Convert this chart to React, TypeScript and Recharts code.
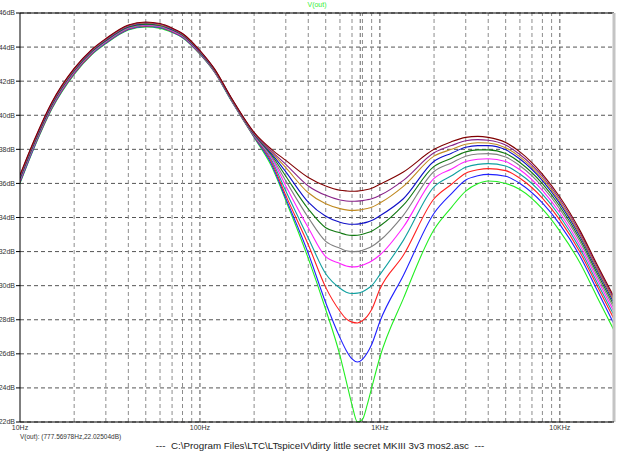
import React from 'react';
import { LineChart, Line, XAxis, YAxis, CartesianGrid, ReferenceLine } from 'recharts';

const FONT = '"Liberation Sans", Arial, sans-serif';

// frequencies (Hz)
const freqs = [10, 12, 15, 20, 25, 30, 40, 50, 60, 70, 80, 100, 120, 150, 200, 250, 300, 400, 500, 600, 650, 700, 750, 800, 850, 900, 1000, 1350, 2000, 2500, 3000, 3500, 4000, 5000, 6000, 8000, 10000, 13000, 16000, 20000];

// V(out) in dB for each stepped run
const sMaroon = [36.5, 38.55, 40.75, 42.75, 43.85, 44.5, 45.3, 45.47, 45.38, 45.12, 44.8, 43.8, 42.75, 41.0, 39.0, 38.0, 37.35, 36.35, 35.85, 35.6, 35.56, 35.54, 35.55, 35.58, 35.64, 35.72, 35.95, 36.67, 38.0, 38.45, 38.7, 38.76, 38.7, 38.4, 37.85, 36.55, 35.2, 33.2, 31.3, 29.34];
const sPurple = [36.45, 38.5, 40.71, 42.72, 43.82, 44.47, 45.27, 45.44, 45.35, 45.09, 44.78, 43.78, 42.73, 40.98, 38.97, 37.9, 37.12, 35.85, 35.3, 35.03, 34.97, 34.95, 34.96, 34.99, 35.04, 35.1, 35.3, 36.18, 37.8, 38.22, 38.5, 38.57, 38.53, 38.25, 37.7, 36.42, 35.07, 33.08, 31.18, 29.22];
const sTan = [36.4, 38.46, 40.67, 42.68, 43.79, 44.44, 45.24, 45.41, 45.32, 45.07, 44.75, 43.76, 42.71, 40.96, 38.94, 37.83, 36.92, 35.45, 34.8, 34.52, 34.45, 34.42, 34.43, 34.47, 34.53, 34.6, 34.85, 35.83, 37.6, 38.0, 38.3, 38.39, 38.37, 38.1, 37.56, 36.29, 34.94, 32.96, 31.06, 29.1];
const sNavy = [36.35, 38.41, 40.63, 42.65, 43.76, 44.41, 45.21, 45.38, 45.3, 45.04, 44.73, 43.73, 42.69, 40.95, 38.91, 37.75, 36.68, 34.9, 34.07, 33.72, 33.63, 33.6, 33.61, 33.66, 33.73, 33.82, 34.1, 35.1, 37.3, 37.77, 38.12, 38.22, 38.22, 37.97, 37.43, 36.17, 34.83, 32.85, 30.96, 28.99];
const sDkGreen = [36.3, 38.37, 40.59, 42.61, 43.73, 44.38, 45.18, 45.35, 45.27, 45.02, 44.7, 43.71, 42.67, 40.93, 38.88, 37.67, 36.42, 34.5, 33.4, 33.1, 32.99, 32.95, 32.96, 33.02, 33.1, 33.2, 33.5, 34.72, 37.0, 37.48, 37.85, 37.97, 37.97, 37.75, 37.23, 35.99, 34.66, 32.69, 30.8, 28.83];
const sGray = [36.25, 38.32, 40.55, 42.58, 43.7, 44.35, 45.15, 45.33, 45.24, 44.99, 44.68, 43.69, 42.65, 40.91, 38.85, 37.58, 36.15, 34.0, 32.6, 32.2, 32.05, 32.0, 32.01, 32.08, 32.18, 32.3, 32.65, 34.13, 36.7, 37.2, 37.6, 37.73, 37.75, 37.55, 37.04, 35.81, 34.49, 32.53, 30.64, 28.67];
const sMagenta = [36.2, 38.28, 40.51, 42.54, 43.67, 44.32, 45.12, 45.3, 45.21, 44.96, 44.65, 43.67, 42.63, 40.89, 38.82, 37.5, 35.85, 33.4, 31.7, 31.3, 31.15, 31.1, 31.12, 31.2, 31.31, 31.45, 31.8, 33.44, 36.3, 36.85, 37.28, 37.42, 37.45, 37.28, 36.8, 35.59, 34.28, 32.33, 30.45, 28.47];
const sTeal = [36.15, 38.23, 40.47, 42.51, 43.64, 44.29, 45.09, 45.27, 45.18, 44.94, 44.63, 43.65, 42.61, 40.87, 38.79, 37.38, 35.55, 32.8, 30.7, 29.85, 29.62, 29.54, 29.56, 29.65, 29.8, 30.0, 30.65, 32.66, 35.8, 36.45, 36.95, 37.12, 37.16, 37.02, 36.55, 35.37, 34.07, 32.13, 30.25, 28.27];
const sRed = [36.1, 38.19, 40.43, 42.47, 43.61, 44.26, 45.06, 45.24, 45.16, 44.91, 44.6, 43.62, 42.59, 40.86, 38.76, 37.26, 35.3, 32.4, 29.9, 28.5, 28.05, 27.86, 27.81, 27.95, 28.2, 28.6, 29.8, 31.78, 35.1, 35.95, 36.6, 36.8, 36.87, 36.75, 36.3, 35.14, 33.86, 31.93, 30.05, 28.05];
const sBlue = [36.05, 38.14, 40.39, 42.44, 43.58, 44.23, 45.03, 45.21, 45.13, 44.89, 44.58, 43.6, 42.57, 40.84, 38.73, 37.13, 35.12, 31.9, 29.0, 26.95, 26.2, 25.7, 25.52, 25.68, 26.05, 26.55, 27.9, 30.6, 34.25, 35.4, 36.2, 36.45, 36.53, 36.42, 36.0, 34.86, 33.6, 31.7, 29.8, 27.75];
const sGreen = [36.0, 38.1, 40.35, 42.4, 43.55, 44.2, 45.0, 45.18, 45.1, 44.86, 44.55, 43.58, 42.55, 40.82, 38.7, 37.0, 35.0, 31.6, 28.6, 25.9, 24.4, 23.0, 22.0, 22.15, 23.0, 24.0, 25.8, 29.24, 33.3, 34.6, 35.55, 35.98, 36.14, 36.0, 35.64, 34.5, 33.2, 31.3, 29.4, 27.38];

const xTicks = [10, 100, 1000, 10000];
const xTickLabels = ['10Hz', '100Hz', '1KHz', '10KHz'];
const yTicks = [22, 24, 26, 28, 30, 32, 34, 36, 38, 40, 42, 44, 46];
const minorFreqs = [20, 30, 40, 50, 60, 70, 80, 90, 200, 300, 400, 500, 600, 700, 800, 900, 2000, 3000, 4000, 5000, 6000, 7000, 8000, 9000];
const majorFreqs = [100, 1000, 10000];
const cursorFreq = 777.56978;

const traceName = 'V(out)';
const cursorText = 'V(out): (777.56978Hz,22.02504dB)';
const titleText = '---  C:\\Program Files\\LTC\\LTspiceIV\\dirty little secret MKIII 3v3 mos2.asc  ---';

// drawn in step order (first step at the bottom of the stack)
const series = [
  { key: 'green', color: '#22ee22', values: sGreen },
  { key: 'blue', color: '#2020ff', values: sBlue },
  { key: 'red', color: '#ff2020', values: sRed },
  { key: 'teal', color: '#10a0a0', values: sTeal },
  { key: 'magenta', color: '#ff20ff', values: sMagenta },
  { key: 'gray', color: '#808080', values: sGray },
  { key: 'dkgreen', color: '#107810', values: sDkGreen },
  { key: 'navy', color: '#1010c8', values: sNavy },
  { key: 'tan', color: '#c08a20', values: sTan },
  { key: 'purple', color: '#882288', values: sPurple },
  { key: 'maroon', color: '#800000', values: sMaroon },
];

const data = freqs.map((f, i) => {
  const row: Record<string, number> = { f };
  series.forEach((s) => {
    row[s.key] = s.values[i];
  });
  return row;
});

export default function App() {
  return (
    <div style={{ position: 'absolute', left: 0, top: 0, width: 640, height: 452, background: '#fff', fontFamily: FONT }}>
      <LineChart width={640} height={452} data={data} margin={{ top: 13, right: 26, bottom: 0, left: 0 }}>
        <CartesianGrid vertical={false} stroke="#555" strokeDasharray="4 3" />
        {minorFreqs.map((f) => (
          <ReferenceLine key={'m' + f} x={f} stroke="#8c8c8c" strokeDasharray="4 3" />
        ))}
        {majorFreqs.map((f) => (
          <ReferenceLine key={'M' + f} x={f} stroke="#555" strokeDasharray="4 3" />
        ))}
        <ReferenceLine x={cursorFreq} stroke="#666" strokeDasharray="4 3" />
        <XAxis
          dataKey="f"
          type="number"
          scale="log"
          domain={[10, 20000]}
          ticks={xTicks}
          allowDataOverflow
          tickFormatter={(v: number) => xTickLabels[xTicks.indexOf(v)] ?? ''}
          tickLine={false}
          tickSize={0}
          tickMargin={3}
          axisLine={{ stroke: '#000' }}
          height={30}
          tick={{ fontSize: 7, fill: '#333', fontFamily: FONT }}
        />
        <YAxis
          type="number"
          domain={[22, 46]}
          ticks={yTicks}
          allowDataOverflow
          width={20}
          tickSize={4}
          tickMargin={1}
          tickLine={{ stroke: '#000' }}
          axisLine={{ stroke: '#000' }}
          tickFormatter={(v: number) => v + 'dB'}
          tick={{ fontSize: 7, fill: '#333', fontFamily: FONT }}
        />
        {series.map((s) => (
          <Line
            key={s.key}
            dataKey={s.key}
            type="monotone"
            stroke={s.color}
            strokeWidth={1.1}
            dot={false}
            activeDot={false}
            isAnimationActive={false}
          />
        ))}
        <ReferenceLine y={46} stroke="#000" />
        <ReferenceLine x={20000} stroke="#c4c4c4" strokeWidth={3} />
      </LineChart>
      <div style={{ position: 'absolute', left: 287, top: 1, width: 60, textAlign: 'center', fontSize: 7, color: '#33ee33', lineHeight: '8px' }}>
        {traceName}
      </div>
      <div style={{ position: 'absolute', left: 20, top: 433, fontSize: 6.5, color: '#333', lineHeight: '8px', whiteSpace: 'pre' }}>
        {cursorText}
      </div>
      <div style={{ position: 'absolute', left: 0, top: 440, width: 640, textAlign: 'center', fontSize: 9.8, color: '#222', lineHeight: '12px', whiteSpace: 'pre' }}>
        {titleText}
      </div>
    </div>
  );
}
